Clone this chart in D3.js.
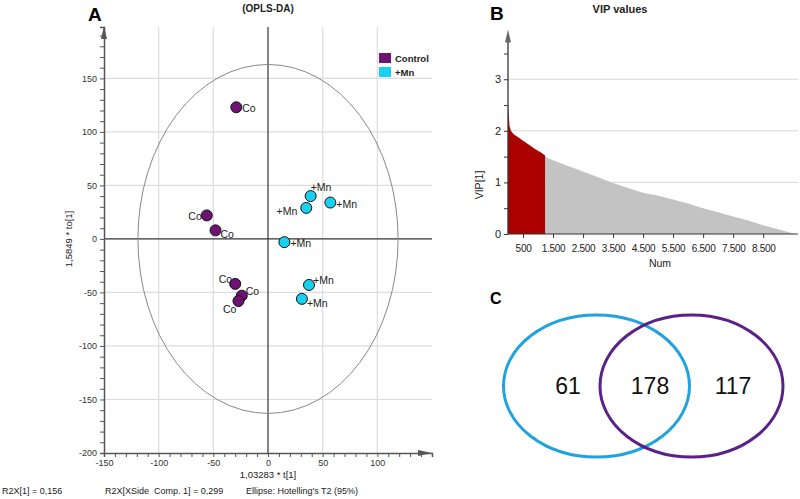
<!DOCTYPE html>
<html><head><meta charset="utf-8">
<script src="https://cdn.jsdelivr.net/npm/d3@7/dist/d3.min.js"></script>
<style>body{margin:0;background:#fff}svg{display:block}text{font-family:Arial,"Liberation Sans",sans-serif}</style>
</head><body><svg id="c" width="800" height="499"></svg>
<script>
// ---- Panel A data (OPLS-DA scores) ----
const groups = ["Control", "+Mn"];
const scoreX = [-29, -56, -48, -30, -24, -27, 39, 35, 57, 15, 37.5, 31];
const scoreY = [123, 22, 8, -42, -53, -58, 40, 29, 34, -3, -43, -56];
const scoreGroup = [0,0,0,0,0,0,1,1,1,1,1,1];
const scoreLabel = ["Co","Co","Co","Co","Co","Co","+Mn","+Mn","+Mn","+Mn","+Mn","+Mn"];
const labelSide = ["r","l","rb","tl","tr","bl","t","lb","r","r","tr","rb"];
const xTicksA = [-150,-100,-50,0,50,100];
const yTicksA = [-200,-150,-100,-50,0,50,100,150];
const ellipseT2 = [119, 163];
const footer = ["R2X[1] = 0,156", "R2X[XSide  Comp. 1] = 0,299", "Ellipse: Hotelling's T2 (95%)"];
// ---- Panel B data (VIP curve) ----
const vipNumRed = [0, 20, 50, 80, 120, 200, 300, 400, 500, 700, 900, 1100, 1235];
const vipValRed = [2.53, 2.35, 2.1, 2.03, 1.98, 1.93, 1.89, 1.85, 1.81, 1.73, 1.65, 1.58, 1.52];
const vipNumGray = [1235, 1500, 2000, 2500, 3000, 3500, 4000, 4500, 5000, 5500, 6000, 6500, 7000, 7500, 8000, 8500, 9000, 9560];
const vipValGray = [1.5, 1.43, 1.32, 1.21, 1.1, 0.99, 0.89, 0.8, 0.74, 0.67, 0.59, 0.5, 0.42, 0.34, 0.26, 0.17, 0.09, 0.0];
const xTicksB = [500,1500,2500,3500,4500,5500,6500,7500,8500];
const xTickLabelsB = ["500","1.500","2.500","3.500","4.500","5.500","6.500","7.500","8.500"];
const yTicksB = [0,1,2,3];
// ---- Panel C data (Venn) ----
const vennSets = ["+Mn only", "both", "Control only"];
const vennCounts = [61, 178, 117];

const svg = d3.select("#c");
const colP = "#6e1273", colC = "#1ad0f0";
const tahoma = "'DejaVu Sans', Verdana, sans-serif";

// ================= Panel A =================
const xA = d3.scaleLinear().domain([-150,150]).range([104,432]);
const yA = d3.scaleLinear().domain([-200,198]).range([453,27]);
const gA = svg.append("g");
gA.selectAll(".gx").data(xTicksA.filter(d=>d!==0&&d!==-150)).join("line")
  .attr("x1",d=>xA(d)).attr("x2",d=>xA(d)).attr("y1",yA(198)).attr("y2",yA(-200))
  .attr("stroke","#dcdcdc").attr("stroke-width",1.2);
gA.selectAll(".gy").data(yTicksA.filter(d=>d!==0&&d!==-200)).join("line")
  .attr("y1",d=>yA(d)).attr("y2",d=>yA(d)).attr("x1",xA(-150)).attr("x2",xA(150))
  .attr("stroke","#dcdcdc").attr("stroke-width",1.2);
gA.append("line").attr("x1",xA(0)).attr("x2",xA(0)).attr("y1",yA(198)).attr("y2",yA(-200)).attr("stroke","#333").attr("stroke-width",1.2);
gA.append("line").attr("x1",xA(-150)).attr("x2",xA(150)).attr("y1",yA(0)).attr("y2",yA(0)).attr("stroke","#333").attr("stroke-width",1.2);
gA.append("ellipse").attr("cx",xA(0)).attr("cy",yA(0))
  .attr("rx",xA(ellipseT2[0])-xA(0)).attr("ry",yA(0)-yA(ellipseT2[1]))
  .attr("fill","none").attr("stroke","#888").attr("stroke-width",1);
const axXA = d3.axisBottom(xA).tickValues(d3.range(-150,141,10)).tickSize(4).tickFormat(d=>xTicksA.includes(d)?d:"");
const gxA = gA.append("g").attr("transform",`translate(0,${yA(-200)})`).call(axXA);
const axYA = d3.axisLeft(yA).tickValues(d3.range(-200,191,10)).tickSize(4).tickFormat(d=>yTicksA.includes(d)?d:"");
const gyA = gA.append("g").attr("transform",`translate(${xA(-150)},0)`).call(axYA);
[gxA,gyA].forEach(g=>{g.select(".domain").attr("stroke","#555").attr("stroke-width",1.5);
  g.selectAll(".tick line").attr("stroke","#555");
  g.selectAll(".tick text").attr("font-size",9).attr("fill","#333").attr("font-family","Arial");});
gyA.selectAll(".tick text").attr("x",-7);
gA.append("path").attr("d",`M${xA(150)-14},${yA(-200)-3}L${xA(150)},${yA(-200)}L${xA(150)-14},${yA(-200)+3}Z`).attr("fill","#555");
gA.append("path").attr("d",`M${xA(-150)-3},${yA(198)+12}L${xA(-150)},${yA(198)-1}L${xA(-150)+3},${yA(198)+12}Z`).attr("fill","#555");
const pts = scoreX.map((x,i)=>({x,y:scoreY[i],g:scoreGroup[i],l:scoreLabel[i],s:labelSide[i]}));
gA.selectAll(".pt").data(pts).join("circle").attr("cx",d=>xA(d.x)).attr("cy",d=>yA(d.y)).attr("r",5.5)
  .attr("fill",d=>d.g===0?colP:colC).attr("stroke","#111").attr("stroke-width",1);
const off = {r:[6,5,"start"], l:[-5,5,"end"], rb:[5,8,"start"], tl:[-3,-1,"end"], tr:[4,-1,"start"], bl:[-2,12,"end"], t:[0,-5,"start"], lb:[-9,7,"end"]};
gA.selectAll(".lb").data(pts).join("text")
  .attr("x",d=>xA(d.x)+off[d.s][0]).attr("y",d=>yA(d.y)+off[d.s][1]).attr("text-anchor",d=>off[d.s][2])
  .attr("font-size",10.5).attr("fill","#222").text(d=>d.l);
groups.forEach((g,i)=>{
  gA.append("rect").attr("x",379).attr("y",53+i*14).attr("width",12).attr("height",10).attr("fill",i===0?colP:colC);
  gA.append("text").attr("x",395).attr("y",62+i*14).attr("font-size",9.5).attr("font-weight","bold").attr("fill","#222").text(g);
});
svg.append("text").attr("x",88).attr("y",21).attr("font-size",19).attr("font-weight","bold").text("A");
svg.append("text").attr("x",268).attr("y",12).attr("text-anchor","middle").attr("font-size",10).attr("font-weight","bold").attr("fill","#222").text("(OPLS-DA)");
svg.append("text").attr("x",268).attr("y",478).attr("text-anchor","middle").attr("font-size",9.5).attr("fill","#222").text("1,03283 * t[1]");
svg.append("text").attr("transform","translate(72,239) rotate(-90)").attr("text-anchor","middle").attr("font-size",9.5).attr("fill","#222").text("1,5849 * to[1]");
[[2,footer[0]],[105,footer[1]],[246,footer[2]]].forEach(([x,t])=>
  svg.append("text").attr("x",x).attr("y",494).attr("font-size",9).attr("fill","#222").attr("xml:space","preserve").text(t));

// ================= Panel B =================
const xB = d3.scaleLinear().domain([0,9560]).range([508,795]);
const yB = d3.scaleLinear().domain([0,3.8]).range([234,38]);
const gB = svg.append("g");
gB.selectAll(".gyb").data(yTicksB.filter(d=>d>0)).join("line").attr("x1",508).attr("x2",798)
  .attr("y1",d=>yB(d)).attr("y2",d=>yB(d)).attr("stroke","#d8d8d8");
const redD = vipNumRed.map((n,i)=>[n,vipValRed[i]]);
const grayD = vipNumGray.map((n,i)=>[n,vipValGray[i]]);
const area = d3.area().x(d=>xB(d[0])).y0(yB(0)).y1(d=>yB(d[1]));
gB.append("path").datum(grayD).attr("d",area).attr("fill","#c3c3c3");
gB.append("path").datum(redD).attr("d",area).attr("fill","#aa0000");
const axXB = d3.axisBottom(xB).tickValues(xTicksB).tickSize(4).tickFormat((d,i)=>xTickLabelsB[i]);
const gxB = gB.append("g").attr("transform",`translate(0,${yB(0)})`).call(axXB);
gxB.select(".domain").attr("d",`M508,0H798`).attr("stroke","#333");
const axYB = d3.axisLeft(yB).tickValues([0,0.5,1,1.5,2,2.5,3,3.5]).tickSize(4).tickFormat(d=>yTicksB.includes(d)?d:"");
const gyB = gB.append("g").attr("transform",`translate(508,0)`).call(axYB);
gyB.select(".domain").attr("d",`M0,${yB(0)}V${yB(3.75)}`).attr("stroke","#333").attr("stroke-width",1.3);
[gxB,gyB].forEach(g=>{g.selectAll(".tick line").attr("stroke","#333");
  g.selectAll(".tick text").attr("font-size",11).attr("fill","#222").attr("font-family",tahoma);});
gxB.selectAll(".tick text").attr("font-size",10).attr("letter-spacing","-0.3").attr("dy","1.1em");
gyB.selectAll(".tick text").attr("x",-7);
gB.append("path").attr("d",`M505,${yB(3.75)+2}L508,${yB(3.75)-11}L511,${yB(3.75)+2}Z`).attr("fill","#666");
svg.append("text").attr("x",490).attr("y",20).attr("font-size",19).attr("font-weight","bold").text("B");
svg.append("text").attr("x",620).attr("y",13).attr("text-anchor","middle").attr("font-size",11).attr("font-weight","bold").attr("font-family",tahoma).attr("fill","#222").text("VIP values");
svg.append("text").attr("x",660).attr("y",267).attr("text-anchor","middle").attr("font-size",10.5).attr("font-family",tahoma).attr("fill","#222").text("Num");
svg.append("text").attr("transform","translate(483,185) rotate(-90)").attr("text-anchor","middle").attr("font-size",10.5).attr("font-family",tahoma).attr("fill","#222").text("VIP[1]");

// ================= Panel C =================
const gC = svg.append("g");
svg.append("text").attr("x",490).attr("y",304).attr("font-size",16).attr("font-weight","bold").text("C");
const xC = d3.scalePoint().domain(vennSets).range([568,733]);
gC.append("ellipse").attr("cx",596.5).attr("cy",386).attr("rx",93).attr("ry",71).attr("fill","none").attr("stroke","#1fa2dd").attr("stroke-width",3);
gC.append("ellipse").attr("cx",691.5).attr("cy",386).attr("rx",91.5).attr("ry",71).attr("fill","none").attr("stroke","#5a2289").attr("stroke-width",3);
gC.selectAll(".vt").data(vennSets).join("text").attr("x",(d,i)=>i===1?650:xC(d)).attr("y",394)
  .attr("text-anchor","middle").attr("font-size",23).attr("fill","#111").text((d,i)=>vennCounts[i]);
</script></body></html>
